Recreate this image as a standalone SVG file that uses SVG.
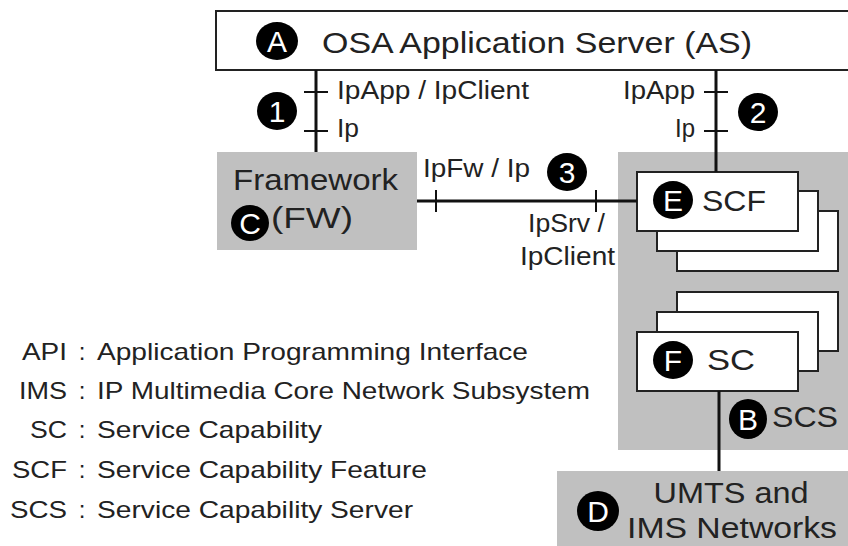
<svg xmlns="http://www.w3.org/2000/svg" width="848" height="546" viewBox="0 0 848 546">
  <defs>
    <style>
      .box{fill:#ffffff;stroke:#222;stroke-width:2}
      .grey{fill:#c0c0c0;stroke:none}
      .t{font-family:"Liberation Sans",Arial,sans-serif;fill:#222}
      .lbl{font-size:25px}
      .big{font-size:30px}
      .leg{font-size:24px}
      .badge ellipse{fill:#000}
      .badge text{font-family:"Liberation Sans",Arial,sans-serif;font-size:30px;fill:#fff;text-anchor:middle}
      .conn{stroke:#111;stroke-width:3;fill:none}
      .tick{stroke:#111;stroke-width:2;fill:none}
    </style>
  </defs>
  <rect width="848" height="546" fill="#fff"/>

  <!-- OSA Application Server -->
  <g id="node-as">
    <rect class="box" x="216" y="11" width="650" height="59"/>
    <g class="badge"><ellipse cx="277" cy="41" rx="21" ry="19"/><text x="277" y="52">A</text></g>
    <text class="t big" x="322" y="53" textLength="430" lengthAdjust="spacingAndGlyphs">OSA Application Server (AS)</text>
  </g>

  <!-- Framework -->
  <g id="node-fw">
    <rect class="grey" x="217" y="152" width="200" height="98"/>
    <text class="t big" x="233" y="190" textLength="165" lengthAdjust="spacingAndGlyphs">Framework</text>
    <g class="badge"><ellipse cx="250" cy="223" rx="19" ry="18"/><text x="250" y="234">C</text></g>
    <text class="t big" x="271" y="228" textLength="82" lengthAdjust="spacingAndGlyphs">(FW)</text>
  </g>

  <!-- Service Capability Server -->
  <g id="node-scs">
    <rect class="grey" x="618" y="152" width="240" height="298"/>
    <g class="badge"><ellipse cx="748" cy="419" rx="19" ry="20"/><text x="748" y="430">B</text></g>
    <text class="t big" x="772" y="427" textLength="66" lengthAdjust="spacingAndGlyphs">SCS</text>
  </g>

  <!-- SCF stack -->
  <g id="node-scf">
    <rect class="box" x="677" y="211" width="161" height="60"/>
    <rect class="box" x="657" y="191" width="161" height="60"/>
    <rect class="box" x="637" y="172" width="161" height="59"/>
    <g class="badge"><ellipse cx="673" cy="200" rx="20" ry="19"/><text x="673" y="211">E</text></g>
    <text class="t big" x="702" y="211" textLength="64" lengthAdjust="spacingAndGlyphs">SCF</text>
  </g>

  <!-- SC stack -->
  <g id="node-sc">
    <rect class="box" x="677" y="292" width="161" height="59"/>
    <rect class="box" x="657" y="312" width="161" height="59"/>
    <rect class="box" x="637" y="332" width="161" height="59"/>
    <g class="badge"><ellipse cx="673" cy="360" rx="20" ry="19"/><text x="673" y="371">F</text></g>
    <text class="t big" x="707" y="370" textLength="48" lengthAdjust="spacingAndGlyphs">SC</text>
  </g>

  <!-- UMTS and IMS Networks -->
  <g id="node-net">
    <rect class="grey" x="557" y="471" width="300" height="80"/>
    <g class="badge"><ellipse cx="598" cy="511" rx="21" ry="20"/><text x="598" y="522">D</text></g>
    <text class="t big" x="731" y="503" text-anchor="middle" textLength="155" lengthAdjust="spacingAndGlyphs">UMTS and</text>
    <text class="t big" x="732" y="538" text-anchor="middle" textLength="210" lengthAdjust="spacingAndGlyphs">IMS Networks</text>
  </g>

  <!-- Interfaces between the nodes -->
  <g id="connectors">
    <!-- AS to Framework -->
    <line class="conn" x1="316" y1="70" x2="316" y2="152"/>
    <line class="tick" x1="304" y1="92" x2="328" y2="92"/>
    <line class="tick" x1="304" y1="131" x2="328" y2="131"/>
    <text class="t lbl" x="337" y="99" textLength="192" lengthAdjust="spacingAndGlyphs">IpApp / IpClient</text>
    <text class="t lbl" x="337" y="137" textLength="22" lengthAdjust="spacingAndGlyphs">Ip</text>
    <g class="badge"><ellipse cx="277" cy="111" rx="20" ry="19"/><text x="277" y="122">1</text></g>

    <!-- AS to SCF -->
    <line class="conn" x1="716" y1="70" x2="716" y2="172"/>
    <line class="tick" x1="704" y1="92" x2="728" y2="92"/>
    <line class="tick" x1="704" y1="131" x2="728" y2="131"/>
    <text class="t lbl" x="695" y="99" text-anchor="end" textLength="72" lengthAdjust="spacingAndGlyphs">IpApp</text>
    <text class="t lbl" x="695" y="137" text-anchor="end" textLength="20" lengthAdjust="spacingAndGlyphs">Ip</text>
    <g class="badge"><ellipse cx="758" cy="112" rx="20" ry="19"/><text x="758" y="123">2</text></g>

    <!-- Framework to SCF -->
    <line class="conn" x1="417" y1="201" x2="637" y2="201"/>
    <line class="tick" x1="436" y1="190" x2="436" y2="212"/>
    <line class="tick" x1="596" y1="190" x2="596" y2="212"/>
    <text class="t lbl" x="423" y="177" textLength="107" lengthAdjust="spacingAndGlyphs">IpFw / Ip</text>
    <g class="badge"><ellipse cx="567" cy="172" rx="20" ry="19"/><text x="567" y="183">3</text></g>
    <text class="t lbl" x="605" y="232" text-anchor="end" textLength="77" lengthAdjust="spacingAndGlyphs">IpSrv /</text>
    <text class="t lbl" x="615" y="265" text-anchor="end" textLength="95" lengthAdjust="spacingAndGlyphs">IpClient</text>

    <!-- SC to networks -->
    <line class="conn" x1="719" y1="391" x2="719" y2="471"/>
  </g>

  <!-- Abbreviations -->
  <g id="legend">
    <text class="t leg" x="67" y="360" text-anchor="end" textLength="45" lengthAdjust="spacingAndGlyphs">API</text>
    <text class="t leg" x="82" y="360" text-anchor="middle">:</text>
    <text class="t leg" x="97" y="360" textLength="431" lengthAdjust="spacingAndGlyphs">Application Programming Interface</text>

    <text class="t leg" x="67" y="399" text-anchor="end" textLength="48" lengthAdjust="spacingAndGlyphs">IMS</text>
    <text class="t leg" x="82" y="399" text-anchor="middle">:</text>
    <text class="t leg" x="97" y="399" textLength="493" lengthAdjust="spacingAndGlyphs">IP Multimedia Core Network Subsystem</text>

    <text class="t leg" x="67" y="438" text-anchor="end" textLength="37" lengthAdjust="spacingAndGlyphs">SC</text>
    <text class="t leg" x="82" y="438" text-anchor="middle">:</text>
    <text class="t leg" x="97" y="438" textLength="225" lengthAdjust="spacingAndGlyphs">Service Capability</text>

    <text class="t leg" x="67" y="478" text-anchor="end" textLength="55" lengthAdjust="spacingAndGlyphs">SCF</text>
    <text class="t leg" x="82" y="478" text-anchor="middle">:</text>
    <text class="t leg" x="97" y="478" textLength="330" lengthAdjust="spacingAndGlyphs">Service Capability Feature</text>

    <text class="t leg" x="67" y="518" text-anchor="end" textLength="57" lengthAdjust="spacingAndGlyphs">SCS</text>
    <text class="t leg" x="82" y="518" text-anchor="middle">:</text>
    <text class="t leg" x="97" y="518" textLength="316" lengthAdjust="spacingAndGlyphs">Service Capability Server</text>
  </g>
</svg>
